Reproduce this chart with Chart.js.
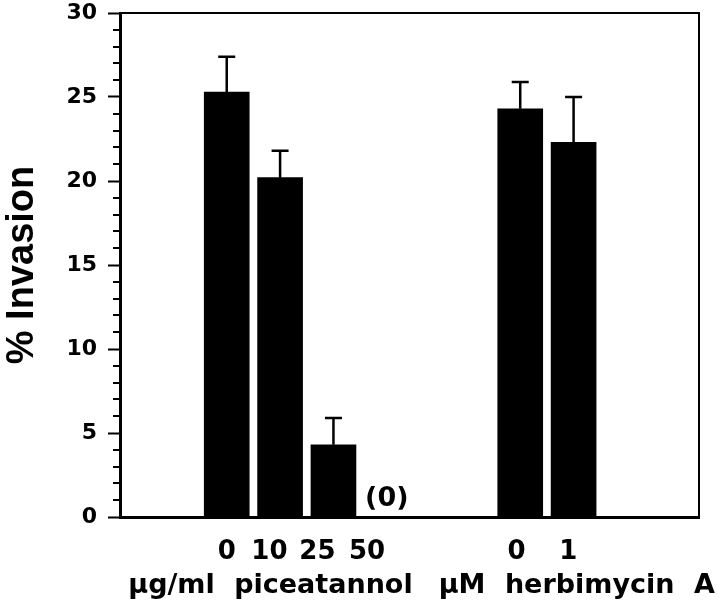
<!DOCTYPE html>
<html>
<head>
<meta charset="utf-8">
<script src="https://cdn.jsdelivr.net/npm/chart.js@4/dist/chart.umd.min.js"></script>
<style>
  body { margin: 0; background: #fff; }
  #wrap { width: 720px; height: 615px; }
</style>
</head>
<body>
<div id="wrap"><canvas id="chartInvasion" width="720" height="615"></canvas></div>
<script>
/* Datos */
const barPositions = [0, 1, 2, 3, 5.5, 6.5];
const invasion = [25.3, 20.2, 4.3, 0, 24.3, 22.3];
const invasionErr = [2.1, 1.6, 1.6, 0, 1.6, 2.7];
const barNotes = ['', '', '', '(0)', '', ''];

const tickPositions = [0, 0.8, 1.7, 2.63, 5.43, 6.4];
const tickLabels = ['0', '10', '25', '50', '0', '1'];

const groupCenters = [0.82, 6.56];
const groupLabels = ['µg/ml piceatannol', 'µM herbimycin A'];

const yTicks = [0, 5, 10, 15, 20, 25, 30];

/* Ticks menores, marco y barras de error */
const extras = {
  id: 'extras',
  afterDraw(chart) {
    const ctx = chart.ctx;
    const x = chart.scales.x;
    const y = chart.scales.y;
    const area = chart.chartArea;
    ctx.save();
    ctx.strokeStyle = '#000';
    ctx.fillStyle = '#000';

    // minor ticks
    ctx.lineWidth = 2;
    for (let v = 1; v < 30; v++) {
      if (v % 5 === 0) continue;
      const py = Math.round(y.getPixelForValue(v));
      ctx.beginPath();
      ctx.moveTo(area.left - 7, py);
      ctx.lineTo(area.left, py);
      ctx.stroke();
    }

    // top and right frame
    ctx.lineWidth = 2;
    ctx.beginPath();
    ctx.moveTo(area.left, area.top);
    ctx.lineTo(area.right, area.top);
    ctx.lineTo(area.right, area.bottom);
    ctx.stroke();

    // error bars
    ctx.lineWidth = 2.5;
    for (let i in invasion) {
      if (!invasionErr[i]) continue;
      const px = x.getPixelForValue(barPositions[i]);
      const yb = y.getPixelForValue(invasion[i]);
      const yt = y.getPixelForValue(invasion[i] + invasionErr[i]);
      ctx.beginPath();
      ctx.moveTo(px, yb);
      ctx.lineTo(px, yt);
      ctx.moveTo(px - 8.5, yt);
      ctx.lineTo(px + 8.5, yt);
      ctx.stroke();
    }

    // notes over bars
    ctx.font = 'bold 27px "DejaVu Sans"';
    ctx.textAlign = 'center';
    ctx.textBaseline = 'alphabetic';
    for (let i in barNotes) {
      if (!barNotes[i]) continue;
      const px = x.getPixelForValue(barPositions[i]);
      ctx.fillText(barNotes[i], px, y.getPixelForValue(invasion[i]) - 11);
    }

    // group labels
    ctx.font = 'bold 27px "DejaVu Sans"';
    try { ctx.wordSpacing = '10px'; } catch (e) {}
    for (let i in groupLabels) {
      ctx.fillText(groupLabels[i], x.getPixelForValue(groupCenters[i]), 593);
    }
    ctx.restore();
  },
};

const ctx = document.getElementById('chartInvasion').getContext('2d');
const chartInvasion = new Chart(ctx, {
  type: 'bar',
  data: {
    datasets: [
      {
        data: barPositions.map((p, i) => ({ x: p, y: invasion[i] })),
        backgroundColor: '#000',
        borderWidth: 0,
        barThickness: 45,
      },
    ],
  },
  options: {
    responsive: false,
    animation: false,
    layout: {
      padding: { top: 13, right: 21, left: 0, bottom: 0 },
    },
    scales: {
      x: {
        type: 'linear',
        min: -2,
        max: 8.85,
        offset: false,
        grid: { display: false, drawTicks: false },
        border: { display: true, color: '#000', width: 3 },
        afterBuildTicks: (scale) => {
          scale.ticks = tickPositions.map((v) => ({ value: v }));
        },
        afterFit: (scale) => {
          scale.height = 98;
          scale.paddingLeft = 0;
          scale.paddingRight = 0;
        },
        ticks: {
          color: '#000',
          autoSkip: false,
          maxRotation: 0,
          padding: 20,
          font: { family: 'DejaVu Sans', weight: 'bold', size: 26 },
          callback: (value, index) => tickLabels[index],
        },
      },
      y: {
        min: 0,
        max: 30,
        afterBuildTicks: (scale) => {
          scale.ticks = yTicks.map((v) => ({ value: v }));
        },
        afterFit: (scale) => {
          scale.width = 120;
          scale.paddingTop = 0;
          scale.paddingBottom = 0;
        },
        grid: {
          display: true,
          drawOnChartArea: false,
          tickLength: 12,
          tickWidth: 2,
          tickColor: '#000',
        },
        border: { display: true, color: '#000', width: 3 },
        ticks: {
          color: '#000',
          padding: 11,
          font: { family: 'DejaVu Sans', weight: 'bold', size: 22 },
        },
        title: {
          display: true,
          text: '% Invasion',
          color: '#000',
          padding: 0,
          font: { family: 'Liberation Sans', weight: 'bold', size: 38 },
        },
      },
    },
    plugins: {
      legend: { display: false },
      tooltip: { enabled: false },
    },
  },
  plugins: [extras],
});
</script>
</body>
</html>
